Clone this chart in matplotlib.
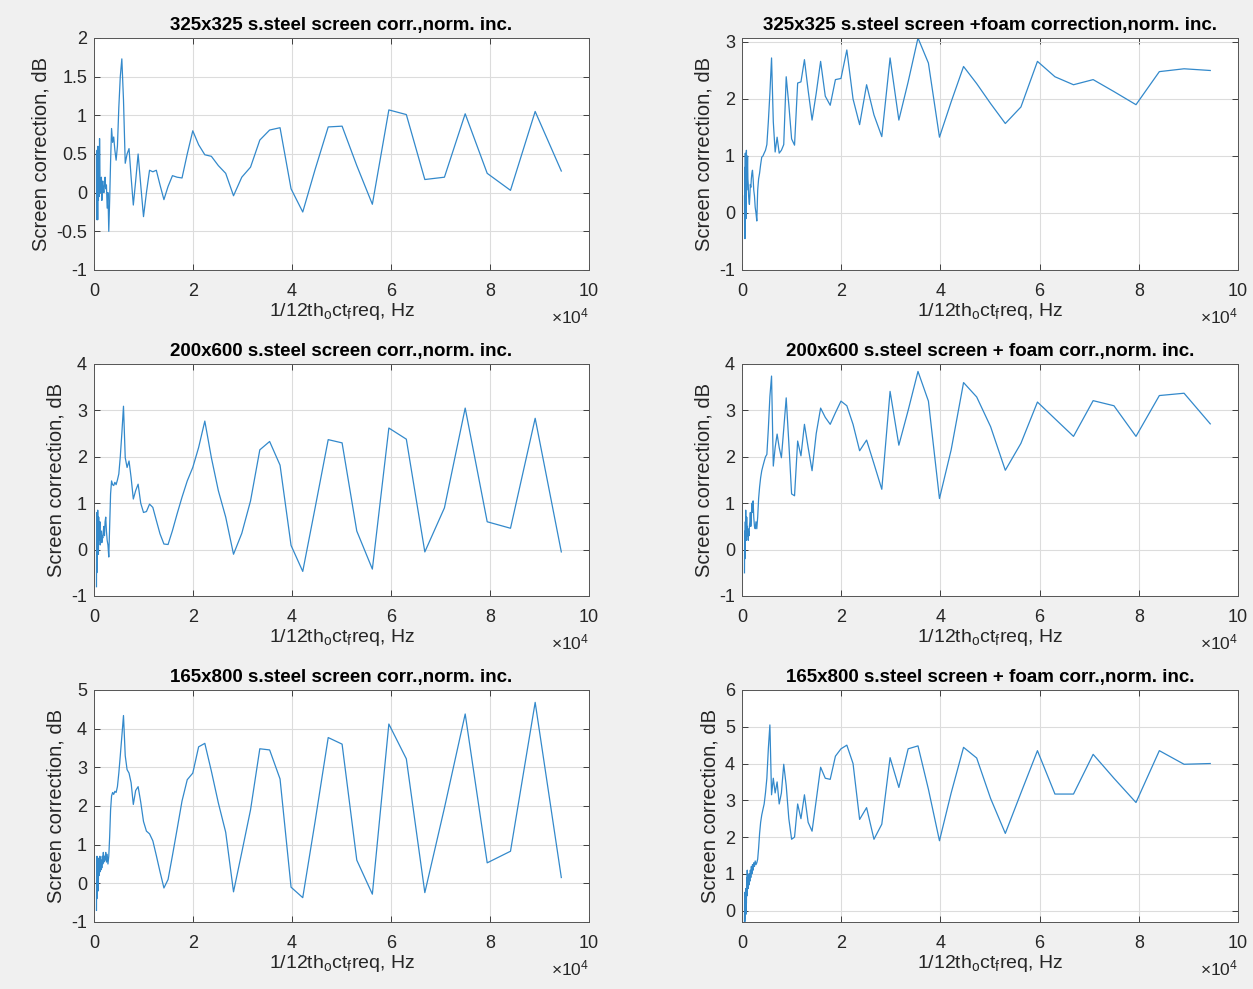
import matplotlib
matplotlib.use("Agg")
import matplotlib.pyplot as plt
from matplotlib.ticker import FuncFormatter
import numpy as np

plt.rcParams['font.family'] = ['Liberation Sans', 'DejaVu Sans']
plt.rcParams['mathtext.default'] = 'regular'
plt.rcParams['axes.unicode_minus'] = False

# 1/12-octave band centre frequencies, Hz
freq_hz = [
    501, 531, 562, 596, 631, 668, 708, 750, 794, 841, 891, 944,
    1000, 1059, 1122, 1189, 1259, 1334, 1413, 1496, 1585, 1679, 1778, 1884,
    1995, 2113, 2239, 2371, 2512, 2661, 2818, 2985,
    3162, 3350, 3548, 3758, 3981, 4217, 4467, 4732, 5012, 5309, 5623, 5957,
    6310, 6683, 7079, 7499, 7943, 8414, 8913, 9441,
    10000, 10593, 11220, 11885, 12589, 13335, 14125, 14962, 15849, 16788,
    17783, 18836, 19953, 21135, 22387, 23714, 25119, 26607, 28184, 29854,
    31623, 33497, 35481, 37584, 39811, 42170, 44668, 47315, 50119, 53088,
    56234, 59566, 63096, 66834, 70795, 74989, 79433, 84140, 89125, 94406,
]

ss325 = [
    0.5, -0.3, 0.4, -0.35, 0.55, 0.0, 0.3, -0.35, 0.6, 0.1, -0.1, 0.4, 0.2, -0.05, 0.7, 0.3,
    0.0, 0.15, 0.05, 0.2, -0.1, 0.1, 0.15, 0.05, 0.0, 0.1, 0.2, 0.05, 0.1, -0.2, 0.0, -0.5,
    -0.1, 0.4, 0.83, 0.65, 0.72, 0.55, 0.42, 0.6, 1.1, 1.5, 1.73, 1.2, 0.38, 0.5, 0.57, 0.2,
    -0.16, 0.15, 0.5, 0.1,
    -0.31, 0.0, 0.29, 0.27, 0.29, 0.1, -0.09, 0.08, 0.22, 0.2, 0.19, 0.5, 0.8, 0.62, 0.49,
    0.47, 0.35, 0.25, -0.04, 0.2,
    0.33, 0.68, 0.81, 0.84, 0.05, -0.25, 0.3, 0.85, 0.86, 0.35, -0.15, 1.07, 1.01, 0.17, 0.2,
    1.02, 0.25, 0.03, 1.05, 0.28,
]
ss325_foam = [
    0.3, -0.3, 0.8, -0.45, 0.5, 1.05, 0.2, 0.9, -0.1, 0.6, 1.1, 0.4, 0.9, 0.7, 1.0, 0.6,
    0.5, 0.3, 0.2, 0.15, 0.3, 0.5, 0.45, 0.6, 0.7, 0.75, 0.6, 0.4, 0.3, 0.1, 0.0, -0.14,
    0.4, 0.6, 0.7, 0.85, 0.98, 1.0, 1.05, 1.1, 1.2, 1.6, 2.1, 2.72, 1.6, 1.07, 1.33, 1.05,
    1.1, 1.2, 2.39, 1.9,
    1.3, 1.19, 2.28, 2.3, 2.69, 2.15, 1.63, 2.1, 2.66, 2.05, 1.89, 2.34, 2.36, 2.86, 2.0,
    1.55, 2.25, 1.72, 1.34, 2.72,
    1.63, 2.3, 3.07, 2.63, 1.33, 1.95, 2.57, 2.27, 1.92, 1.57, 1.86, 2.66, 2.39, 2.25, 2.34,
    2.13, 1.9, 2.48, 2.53, 2.5,
]
ss200 = [
    -0.8, 0.3, -0.5, 0.8, -0.2, 0.6, 0.0, 0.85, 0.1, 0.5, -0.1, 0.7, 0.2, 0.5, 0.3, 0.6,
    0.1, 0.35, 0.2, 0.4, 0.15, 0.3, 0.25, 0.4, 0.5, 0.3, 0.6, 0.7, 0.4, 0.2, 0.1, -0.16,
    0.5, 1.2, 1.48, 1.4, 1.38, 1.45, 1.4, 1.5, 1.63, 2.0, 2.5, 3.09, 1.98, 1.77, 1.91, 1.55,
    1.09, 1.27, 1.41, 1.0,
    0.8, 0.82, 0.98, 0.91, 0.63, 0.34, 0.12, 0.11, 0.41, 0.77, 1.13, 1.48, 1.77, 2.2, 2.77,
    1.98, 1.27, 0.7, -0.1, 0.35,
    1.05, 2.15, 2.33, 1.82, 0.09, -0.47, 0.9, 2.37, 2.3, 0.4, -0.42, 2.62, 2.38, -0.05, 0.9,
    3.05, 0.6, 0.46, 2.83, -0.05,
]
ss200_foam = [
    -0.5, 0.2, -0.2, 0.4, 0.0, 0.6, 0.2, 0.85, 0.3, 0.5, 0.2, 0.7, 0.4, 0.5, 0.3, 0.45,
    0.2, 0.4, 0.3, 0.5, 0.6, 0.8, 0.5, 0.7, 1.0, 0.8, 1.05, 0.7, 0.5, 0.45, 0.6, 0.45,
    0.7, 1.1, 1.35, 1.55, 1.7, 1.8, 1.9, 2.0, 2.05, 2.6, 3.3, 3.74, 1.8, 2.2, 2.49, 2.2,
    1.98, 2.6, 3.27, 2.3,
    1.2, 1.16, 2.34, 2.02, 2.7, 2.2, 1.7, 2.5, 3.05, 2.85, 2.7, 2.95, 3.2, 3.1, 2.7,
    2.13, 2.36, 1.85, 1.3, 3.41,
    2.25, 3.0, 3.84, 3.2, 1.1, 2.15, 3.6, 3.29, 2.65, 1.71, 2.29, 3.18, 2.82, 2.44, 3.21,
    3.1, 2.44, 3.32, 3.37, 2.71,
]
ss165 = [
    -0.7, 0.2, -0.4, 0.7, -0.1, 0.5, 0.0, 0.6, -0.2, 0.4, 0.1, 0.65, 0.2, 0.5, 0.3, 0.7,
    0.3, 0.5, 0.35, 0.6, 0.4, 0.7, 0.5, 0.8, 0.55, 0.7, 0.6, 0.8, 0.55, 0.75, 0.5, 0.7,
    1.2, 1.9, 2.26, 2.35, 2.3, 2.38, 2.35, 2.5, 2.85, 3.3, 3.8, 4.34, 3.3, 2.94, 2.85, 2.6,
    2.04, 2.4, 2.5, 2.1,
    1.6, 1.35, 1.28, 1.1, 0.72, 0.3, -0.12, 0.1, 0.72, 1.4, 2.13, 2.68, 2.85, 3.53, 3.62,
    2.9, 2.08, 1.32, -0.22, 0.8,
    1.9, 3.48, 3.45, 2.7, -0.1, -0.37, 1.6, 3.77, 3.6, 0.6, -0.28, 4.12, 3.22, -0.24, 1.95,
    4.38, 0.53, 0.83, 4.68, 0.15,
]
ss165_foam = [
    -0.3, 0.3, -0.3, 0.5, -0.2, 0.4, 0.0, 0.6, -0.1, 0.5, 0.2, 0.9, 0.4, 1.1, 0.6, 1.0,
    0.6, 0.9, 0.7, 1.0, 0.8, 1.1, 0.9, 1.2, 1.0, 1.25, 1.1, 1.3, 1.2, 1.35, 1.25, 1.3,
    1.4, 1.7, 2.1, 2.4, 2.6, 2.75, 2.9, 3.2, 3.6, 4.4, 5.05, 3.15, 3.6, 3.2, 3.5, 2.9,
    3.2, 3.98, 3.4, 2.5,
    1.94, 2.0, 2.9, 2.5, 3.15, 2.4, 2.16, 3.0, 3.9, 3.6, 3.57, 4.2, 4.4, 4.5, 4.0,
    2.48, 2.8, 1.94, 2.35, 4.16,
    3.35, 4.4, 4.48, 3.3, 1.9, 3.2, 4.44, 4.15, 3.05, 2.1, 3.2, 4.35, 3.17, 3.17, 4.25,
    3.6, 2.94, 4.35, 3.98, 4.0,
]

titles = [
    "325x325 s.steel screen corr.,norm. inc.",
    "325x325 s.steel screen +foam correction,norm. inc.",
    "200x600 s.steel screen corr.,norm. inc.",
    "200x600 s.steel screen + foam corr.,norm. inc.",
    "165x800 s.steel screen corr.,norm. inc.",
    "165x800 s.steel screen + foam corr.,norm. inc.",
]
series = [ss325, ss325_foam, ss200, ss200_foam, ss165, ss165_foam]
ylims = [(-1, 2), (-1, 3.07), (-1, 4), (-1, 4), (-1, 5), (-0.31, 6)]
ysteps = [0.5, 1, 1, 1, 1, 1]
xtick_vals = [0, 20000, 40000, 60000, 80000, 100000]
xtick_labels = ['0', '2', '4', '6', '8', '10']

W, H = 1253, 989
fig = plt.figure(figsize=(W / 100, H / 100), dpi=100, facecolor='#f0f0f0')

col_left = [94, 742]
col_w = [495, 496]
row_top = [38, 364, 690]
row_h = 232

line_color = '#3389cb'
txt_color = '#262626'


def fmt(v, p):
    v = round(v, 6) + 0.0
    if v == 0:
        v = 0.0
    return f"{v:g}"


for i, (title, y, yl, ys) in enumerate(zip(titles, series, ylims, ysteps)):
    r, c = divmod(i, 2)
    ax = fig.add_axes([col_left[c] / W, 1 - (row_top[r] + row_h) / H, col_w[c] / W, row_h / H])
    ax.set_facecolor('white')
    ax.plot(freq_hz, y, color=line_color, lw=0.9)
    ax.set_xlim(0, 100000)
    ax.set_ylim(*yl)
    ax.set_xticks(xtick_vals)
    ax.set_xticklabels(xtick_labels)
    start = np.ceil(yl[0] / ys) * ys
    ticks = np.arange(start, yl[1] + 1e-9, ys)
    ax.set_yticks(ticks)
    ax.yaxis.set_major_formatter(FuncFormatter(fmt))
    ax.grid(True, color='#dcdcdc', lw=0.8)
    ax.set_axisbelow(True)
    ax.tick_params(direction='in', length=4, width=0.6, top=True, right=True,
                   labelsize=13, colors=txt_color)
    ax.tick_params(axis='x', pad=9)
    ax.tick_params(axis='y', pad=5)
    for s in ax.spines.values():
        s.set_color('#555555')
        s.set_linewidth(0.7)
    ax.set_title(title, fontsize=13.5, fontweight='bold', color='black', pad=6)
    ax.set_xlabel('1/12th$_o$ct$_f$req, Hz', fontsize=14, color=txt_color, labelpad=1)
    ax.set_ylabel('Screen correction, dB', fontsize=14.5, color=txt_color, labelpad=4)
    ax.text(1.0, -0.2, '×10$^4$', transform=ax.transAxes, ha='right', va='center',
            fontsize=12.5, color=txt_color)

fig.savefig('out.png', dpi=100, facecolor=fig.get_facecolor())
